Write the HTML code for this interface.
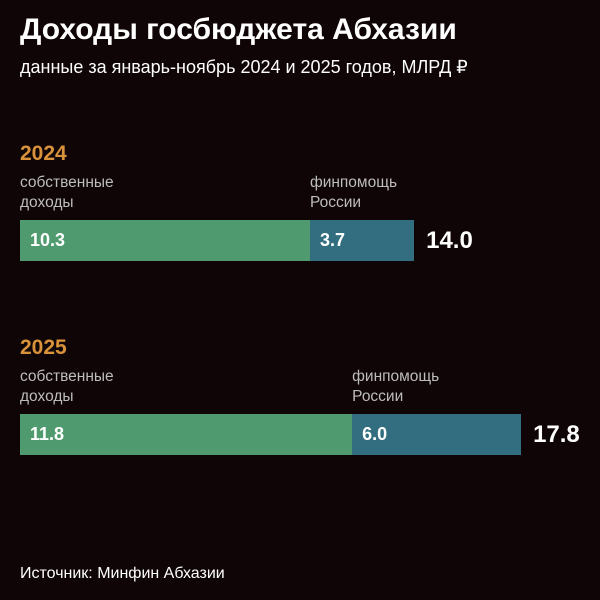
<!DOCTYPE html>
<html><head><meta charset="utf-8"><style>
body{margin:0;background:#0f0506;width:600px;height:600px;overflow:hidden;position:relative;font-family:"Liberation Sans",sans-serif}
.a{position:absolute;white-space:nowrap}
.t{left:20px;top:13px;font-size:30px;font-weight:bold;color:#fff}
.s{left:20px;top:57px;font-size:18px;color:#fff}
.y{left:20px;font-size:21px;font-weight:bold;color:#d9913a}
.l{font-size:15.5px;color:#bdbdbd;line-height:20px}
.seg{position:absolute;height:41px}
.v{position:absolute;font-size:18px;font-weight:bold;color:#fff;line-height:41px;padding-left:10px;box-sizing:border-box}
.tot{position:absolute;font-size:24px;font-weight:bold;color:#fff;line-height:41px}
.src{left:20px;top:565px;font-size:16px;color:#fff}
</style></head><body>
<div class="a t">Доходы госбюджета Абхазии</div>
<div class="a s">данные за январь-ноябрь 2024 и 2025 годов, МЛРД ₽</div>
<div id="chart"></div>
<div class="a src">Источник: Минфин Абхазии</div>
<script>
const years=['2024','2025'];
const own=[10.3,11.8];
const aid=[3.7,6.0];
const totals=['14.0','17.8'];
const x0=20, k=28.15;
const tops=[142,336];
const sx=v=>x0+v*k;
const c=document.getElementById('chart');
function mk(cls,name,css,txt){const e=document.createElement('div');e.className=cls;e.style.cssText=css;if(txt!==undefined)e.textContent=txt;c.appendChild(e);


return e;}
years.forEach((y,i)=>{
 const t=tops[i];
 mk('a y','year-label-'+y,'top:'+t+'px',y);
 mk('a l','own-label-'+y,'left:20px;top:'+(t+31)+'px','').innerHTML='собственные<br>доходы';
 mk('a l','aid-label-'+y,'left:'+(sx(own[i]))+'px;top:'+(t+31)+'px','').innerHTML='финпомощь<br>России';
 const by=t+78;
 mk('seg','bar-own-'+y,'left:'+x0+'px;top:'+by+'px;width:'+(sx(own[i])-x0)+'px;background:#4f9b6f');
 mk('seg','bar-aid-'+y,'left:'+sx(own[i])+'px;top:'+by+'px;width:'+(sx(own[i]+aid[i])-sx(own[i]))+'px;background:#336e80');
 mk('v','value-own-'+y,'left:'+x0+'px;top:'+by+'px',own[i].toFixed(1));
 mk('v','value-aid-'+y,'left:'+sx(own[i])+'px;top:'+by+'px',aid[i].toFixed(1));
 mk('tot','total-'+y,'left:'+(sx(own[i]+aid[i])+12)+'px;top:'+by+'px',totals[i]);
});
</script>
</body></html>
